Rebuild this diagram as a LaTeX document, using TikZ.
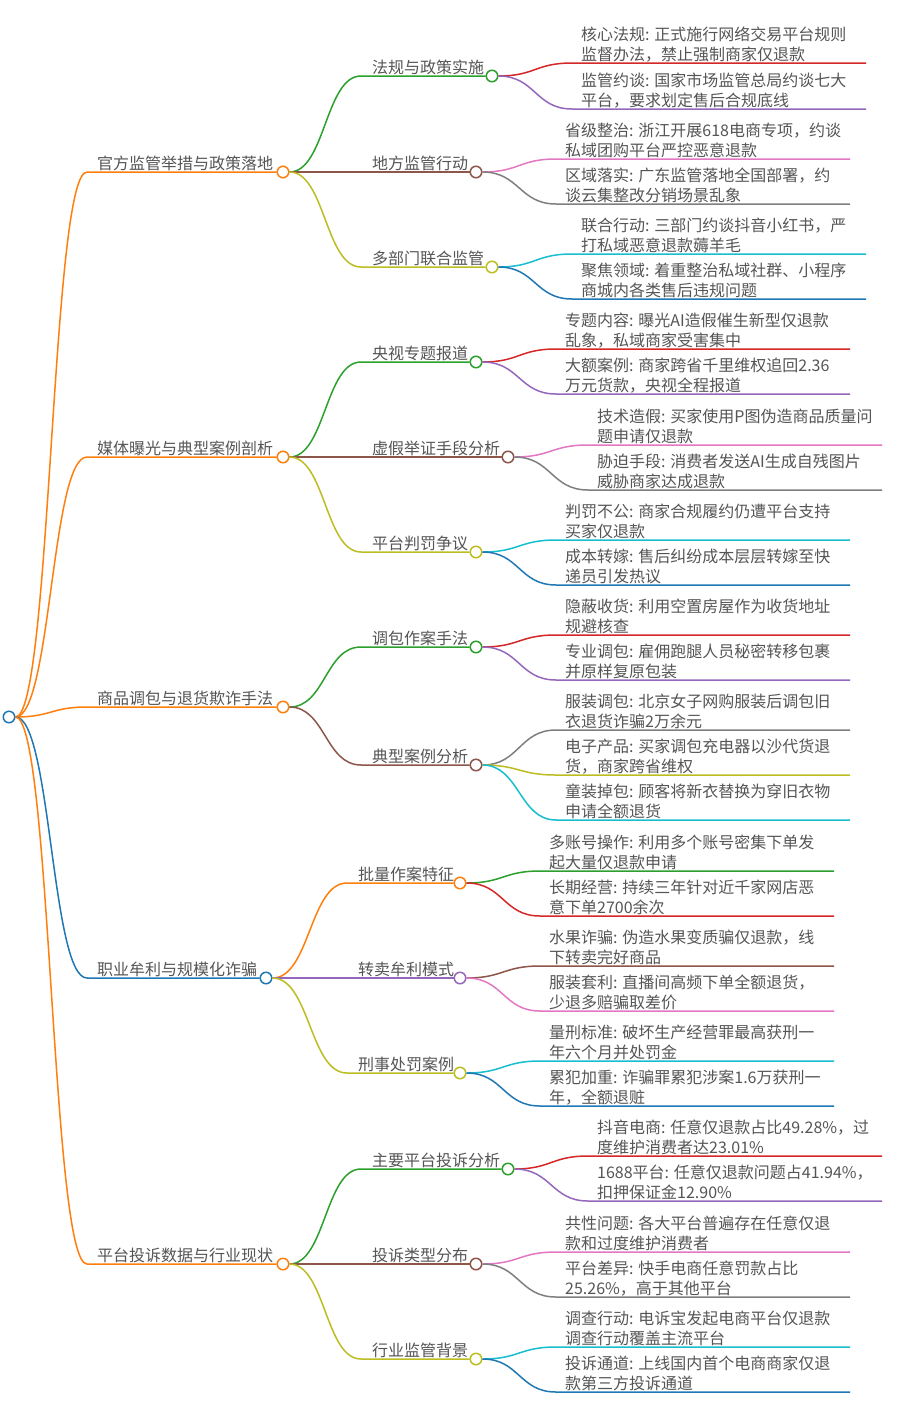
\documentclass[tikz,border=0pt]{standalone}
\usepackage{fontspec}
\setmainfont{Noto Sans CJK SC}
\usetikzlibrary{calc}
\definecolor{cOrange}{HTML}{FF7F0E}
\definecolor{cBlue}{HTML}{1F77B4}
\definecolor{cGreen}{HTML}{2CA02C}
\definecolor{cRed}{HTML}{D62728}
\definecolor{cPurple}{HTML}{9467BD}
\definecolor{cBrown}{HTML}{8C564B}
\definecolor{cPink}{HTML}{E377C2}
\definecolor{cGray}{HTML}{7F7F7F}
\definecolor{cOlive}{HTML}{BCBD22}
\definecolor{cCyan}{HTML}{17BECF}
\definecolor{txt}{HTML}{555555}
\tikzset{
  mmline/.style={line width=1.5pt},
  mmdot/.style={circle, draw=#1, fill=white, line width=1.5pt, minimum size=11.5pt, inner sep=0pt},
  mmlab/.style={anchor=base west, inner sep=0pt, text=txt, font=\fontsize{16}{20}\selectfont},
}
\newcommand\mmbranch[4]{\draw[mmline,#1] let \p1=(#2), \p2=(#3) in (\p1) .. controls ({(\x1+\x2)/2},\y1) and ({(\x1+\x2)/2},\y2) .. (\p2) -- (#4);}
% level 1: name, colour, y, circle x, text
\newcommand\mmtop[5]{%
  \coordinate (#1s) at (87,#3);
  \node[mmdot=#2] (#1) at (#4,#3) {};
  \node[mmlab] (#1t) at (97,#3-3) {#5};
  \mmbranch{#2}{root.east}{#1s}{#1.west}}
% level 2: name, parent, colour, start x, y, circle x, text
\newcommand\mmmid[7]{%
  \coordinate (#1s) at (#4,#5);
  \node[mmdot=#3] (#1) at (#6,#5) {};
  \node[mmlab] (#1t) at (#4+11,#5-3) {#7};
  \mmbranch{#3}{#2.east}{#1s}{#1.west}}
% leaf: name, parent, colour, start x, y, line1, line2
\newcommand\mmleaf[7]{%
  \coordinate (#1s) at (#4,#5);
  \coordinate (#1e) at (#4+294,#5);
  \node[mmlab] (#1) at (#4+9,#5-3) {\begin{tabular}[b]{@{}l@{}}#6\\#7\end{tabular}};
  \mmbranch{#3}{#2.east}{#1s}{#1e}}
\begin{document}
\begin{tikzpicture}[x=1pt,y=-1pt]
\useasboundingbox[fill=white] (0,0) rectangle (905,1417);
\node[mmdot=cBlue] (root) at (9,717) {};
% group 1
\mmtop{A}{cOrange}{172}{283}{官方监管举措与政策落地}
\mmmid{A1}{A}{cGreen}{361}{76}{492}{法规与政策实施}
\mmleaf{A1a}{A1}{cRed}{572}{63}{核心法规: 正式施行网络交易平台规则}{监督办法，禁止强制商家仅退款}
\mmleaf{A1b}{A1}{cPurple}{572}{109}{监管约谈: 国家市场监管总局约谈七大}{平台，要求划定售后合规底线}
\mmmid{A2}{A}{cBrown}{361}{172}{476}{地方监管行动}
\mmleaf{A2a}{A2}{cPink}{556}{159}{省级整治: 浙江开展618电商专项，约谈}{私域团购平台严控恶意退款}
\mmleaf{A2b}{A2}{cGray}{556}{204}{区域落实: 广东监管落地全国部署，约}{谈云集整改分销场景乱象}
\mmmid{A3}{A}{cOlive}{361}{267}{492}{多部门联合监管}
\mmleaf{A3a}{A3}{cCyan}{572}{254}{联合行动: 三部门约谈抖音小红书，严}{打私域恶意退款薅羊毛}
\mmleaf{A3b}{A3}{cBlue}{572}{299}{聚焦领域: 着重整治私域社群、小程序}{商城内各类售后违规问题}
% group 2
\mmtop{B}{cOrange}{457}{283}{媒体曝光与典型案例剖析}
\mmmid{B1}{B}{cGreen}{361}{362}{476}{央视专题报道}
\mmleaf{B1a}{B1}{cRed}{556}{349}{专题内容: 曝光AI造假催生新型仅退款}{乱象，私域商家受害集中}
\mmleaf{B1b}{B1}{cPurple}{556}{394}{大额案例: 商家跨省千里维权追回2.36}{万元货款，央视全程报道}
\mmmid{B2}{B}{cBrown}{361}{457}{508}{虚假举证手段分析}
\mmleaf{B2a}{B2}{cPink}{588}{445}{技术造假: 买家使用P图伪造商品质量问}{题申请仅退款}
\mmleaf{B2b}{B2}{cGray}{588}{490}{胁迫手段: 消费者发送AI生成自残图片}{威胁商家达成退款}
\mmmid{B3}{B}{cOlive}{361}{552}{476}{平台判罚争议}
\mmleaf{B3a}{B3}{cCyan}{556}{540}{判罚不公: 商家合规履约仍遭平台支持}{买家仅退款}
\mmleaf{B3b}{B3}{cBlue}{556}{585}{成本转嫁: 售后纠纷成本层层转嫁至快}{递员引发热议}
% group 3
\mmtop{C}{cOrange}{707}{283}{商品调包与退货欺诈手法}
\mmmid{C1}{C}{cGreen}{361}{647}{476}{调包作案手法}
\mmleaf{C1a}{C1}{cRed}{556}{635}{隐蔽收货: 利用空置房屋作为收货地址}{规避核查}
\mmleaf{C1b}{C1}{cPurple}{556}{680}{专业调包: 雇佣跑腿人员秘密转移包裹}{并原样复原包装}
\mmmid{C2}{C}{cBrown}{361}{765}{476}{典型案例分析}
\mmleaf{C2a}{C2}{cGray}{556}{730}{服装调包: 北京女子网购服装后调包旧}{衣退货诈骗2万余元}
\mmleaf{C2b}{C2}{cOlive}{556}{775}{电子产品: 买家调包充电器以沙代货退}{货，商家跨省维权}
\mmleaf{C2c}{C2}{cCyan}{556}{820}{童装掉包: 顾客将新衣替换为穿旧衣物}{申请全额退货}
% group 4
\mmtop{D}{cBlue}{978}{266}{职业牟利与规模化诈骗}
\mmmid{D1}{D}{cOrange}{347}{883}{460}{批量作案特征}
\mmleaf{D1a}{D1}{cGreen}{540}{871}{多账号操作: 利用多个账号密集下单发}{起大量仅退款申请}
\mmleaf{D1b}{D1}{cRed}{540}{916}{长期经营: 持续三年针对近千家网店恶}{意下单2700余次}
\mmmid{D2}{D}{cPurple}{347}{978}{460}{转卖牟利模式}
\mmleaf{D2a}{D2}{cBrown}{540}{966}{水果诈骗: 伪造水果变质骗仅退款，线}{下转卖完好商品}
\mmleaf{D2b}{D2}{cPink}{540}{1011}{服装套利: 直播间高频下单全额退货，}{少退多赔骗取差价}
\mmmid{D3}{D}{cOlive}{347}{1073}{460}{刑事处罚案例}
\mmleaf{D3a}{D3}{cCyan}{540}{1061}{量刑标准: 破坏生产经营罪最高获刑一}{年六个月并处罚金}
\mmleaf{D3b}{D3}{cBlue}{540}{1106}{累犯加重: 诈骗罪累犯涉案1.6万获刑一}{年，全额退赃}
% group 5
\mmtop{E}{cOrange}{1264}{283}{平台投诉数据与行业现状}
\mmmid{E1}{E}{cGreen}{361}{1169}{508}{主要平台投诉分析}
\mmleaf{E1a}{E1}{cRed}{588}{1156}{抖音电商: 任意仅退款占比49.28\%，过}{度维护消费者达23.01\%}
\mmleaf{E1b}{E1}{cPurple}{588}{1201}{1688平台: 任意仅退款问题占41.94\%，}{扣押保证金12.90\%}
\mmmid{E2}{E}{cBrown}{361}{1264}{476}{投诉类型分布}
\mmleaf{E2a}{E2}{cPink}{556}{1252}{共性问题: 各大平台普遍存在任意仅退}{款和过度维护消费者}
\mmleaf{E2b}{E2}{cGray}{556}{1297}{平台差异: 快手电商任意罚款占比}{25.26\%，高于其他平台}
\mmmid{E3}{E}{cOlive}{361}{1359}{476}{行业监管背景}
\mmleaf{E3a}{E3}{cCyan}{556}{1347}{调查行动: 电诉宝发起电商平台仅退款}{调查行动覆盖主流平台}
\mmleaf{E3b}{E3}{cBlue}{556}{1392}{投诉通道: 上线国内首个电商商家仅退}{款第三方投诉通道}
\end{tikzpicture}
\end{document}
